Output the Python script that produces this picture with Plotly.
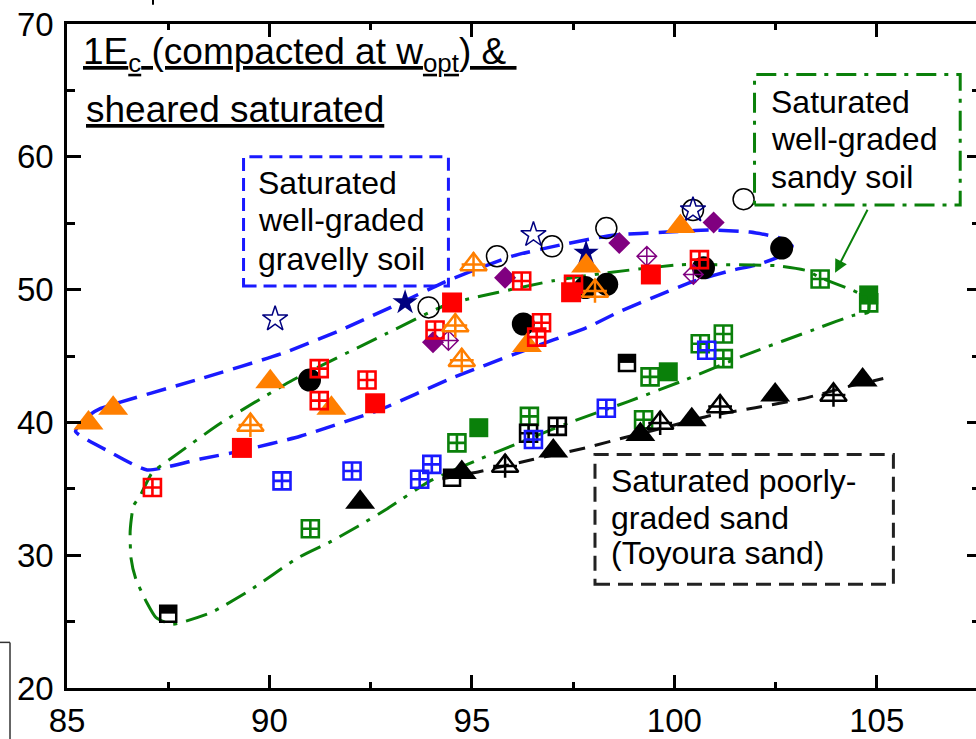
import plotly.graph_objects as go

FONT = "Arial, Liberation Sans, sans-serif"

# ---------------- envelope curves ----------------
# saturated well-graded gravelly soil (blue dashed loop)
gravel_env_x = [85.21, 85.58, 85.82, 88.29, 90.34, 91.75, 93.36, 94.46, 96.02, 97.18,
                98.49, 99.82, 100.88, 101.87, 102.61, 102.91, 102.74, 102.12, 101.38,
                100.52, 99.65, 98.66, 97.85, 96.19, 94.46, 92.74, 90.76, 89.28, 88.29,
                86.98, 86.07, 85.21]
gravel_env_y = [39.33, 40.6, 41.04, 43.28, 45.22, 46.94, 49.18, 50.75, 52.54, 53.36,
                54.1, 54.33, 54.48, 54.33, 53.88, 53.28, 52.69, 51.94, 51.42,
                50.67, 49.63, 48.36, 47.16, 45.3, 43.28, 40.97, 38.96, 37.84, 37.24,
                36.42, 37.76, 39.33]

# saturated well-graded sandy soil (green dash-dot loop)
sand_env_x = [87.6, 87.2, 86.96, 86.7, 86.58, 86.56, 86.64, 86.81, 87.1, 87.55, 88.79,
              90.59, 92.9, 94.39, 95.63, 97.01, 98.35, 100.15, 101.38, 102.5, 103.28,
              103.6, 104.42, 104.8, 104.79, 104.42, 103.6, 101.75, 100.15, 98.86,
              97.36, 95.2, 93.97, 92.91, 92.2, 91.5, 90.7, 89.49, 88.57, 87.6]
sand_env_y = [24.8, 25.3, 26.5, 28.2, 29.8, 31.8, 33.7, 34.5, 36.2, 37.24, 39.93,
              43.21, 46.7, 48.88, 49.78, 50.67, 51.27, 51.87, 51.87, 51.8, 51.42,
              50.9, 49.93, 49.3, 48.3, 48.06, 47.16, 45.07, 43.06, 41.57,
              39.93, 37.24, 35.6, 33.5, 32.2, 31.0, 29.8, 27.3, 25.7, 24.8]

# saturated poorly-graded Toyoura sand (black dashed trend)
toyoura_x = [94.27, 95.2, 96.5, 97.8, 98.9, 100.0, 100.8, 102.0, 103.2, 104.3, 105.16]
toyoura_y = [35.75, 36.3, 37.2, 38.08, 38.96, 39.8, 40.45, 41.1, 41.8, 42.7, 43.3]

# ---------------- measured points ----------------
orange_tri_x = [85.53, 86.14, 90.02, 91.53, 96.36, 97.82, 100.15]
orange_tri_y = [39.95, 41.07, 43.06, 41.07, 45.8, 51.77, 54.75]

orange_tricross_x = [89.53, 94.59, 94.75, 95.04, 98.04]
orange_tricross_y = [39.8, 47.29, 44.68, 51.89, 49.9]

red_grid_x = [87.11, 91.23, 91.23, 92.41, 94.09, 96.23, 96.72, 96.6, 97.51, 100.62]
red_grid_y = [35.1, 44.05, 41.64, 43.19, 46.96, 50.65, 47.5, 46.42, 50.4, 52.26]

red_sq_x = [89.32, 92.61, 94.51, 97.45, 99.42]
red_sq_y = [38.08, 41.44, 49.03, 49.8, 51.14]

black_dot_x = [90.99, 96.27, 97.8, 98.33, 100.72, 102.65]
black_dot_y = [43.19, 47.41, 50.15, 50.4, 51.64, 53.13]

open_circle_x = [93.93, 95.62, 96.98, 98.32, 100.46, 101.71]
open_circle_y = [48.66, 52.51, 53.26, 54.63, 55.99, 56.81]

navy_star_open_x = [90.14, 96.52, 100.46]
navy_star_open_y = [47.78, 54.13, 55.99]

navy_star_x = [93.35, 97.82]
navy_star_y = [49.03, 52.76]

purple_dia_x = [94.04, 95.82, 98.64, 100.97]
purple_dia_y = [46.04, 50.9, 53.51, 55.05]

purple_diacross_x = [94.42, 99.32, 100.47]
purple_diacross_y = [46.17, 52.51, 51.14]

blue_grid_x = [90.31, 92.04, 93.71, 94.01, 96.52, 98.32, 100.8]
blue_grid_y = [35.6, 36.34, 35.72, 36.84, 38.71, 41.07, 45.43]

green_grid_x = [91.01, 94.63, 96.42, 99.4, 99.24, 100.64, 101.21, 101.21, 103.6, 104.8]
green_grid_y = [31.99, 38.46, 40.45, 43.43, 40.2, 45.92, 46.66, 44.8, 50.8, 49.0]

green_sq_x = [95.17, 99.85, 104.8]
green_sq_y = [39.6, 43.81, 49.6]

black_grid_x = [96.4, 97.11]
black_grid_y = [39.18, 39.7]

black_half_x = [87.5, 94.51, 98.83]
black_half_y = [25.6, 35.84, 44.48]

black_tri_x = [92.24, 94.75, 97.01, 99.16, 100.43, 102.49, 104.65]
black_tri_y = [33.98, 36.22, 37.84, 39.08, 40.2, 42.07, 43.19]

black_tricross_x = [95.82, 99.65, 101.13, 103.93]
black_tricross_y = [36.72, 39.95, 41.19, 42.07]

# ---------------- colours ----------------
ORANGE = "#ff7f00"
RED = "#ff0000"
NAVY = "#000080"
PURPLE = "#800080"
BLUE = "#1a1aff"
GREEN = "#0a800a"
BLACK = "#000000"

fig = go.Figure()


def curve(x, y, color, dash, width):
    fig.add_trace(go.Scatter(x=x, y=y, mode="lines",
                             line=dict(color=color, dash=dash, width=width,
                                       shape="spline", smoothing=0.5),
                             showlegend=False, hoverinfo="skip"))


def points(x, y, symbol, size, color, lw=0, yshift_units=0.0):
    fig.add_trace(go.Scatter(x=x, y=[v + yshift_units for v in y], mode="markers",
                             marker=dict(symbol=symbol, size=size, color=color,
                                         line=dict(width=lw, color=color)),
                             showlegend=False, hoverinfo="skip"))


curve(gravel_env_x, gravel_env_y, BLUE, "20px,10px", 3.5)
curve(sand_env_x, sand_env_y, GREEN, "22px,9px,4px,9px", 3)
curve(toyoura_x, toyoura_y, "#111111", "16px,10px", 3)

# markers (drawn in layers so overlaps read like the original)
points(black_dot_x, black_dot_y, "circle", 23, BLACK)
points(open_circle_x, open_circle_y, "circle-open", 21, BLACK, 1.5)
points(green_sq_x, green_sq_y, "square", 19, GREEN)
points(green_grid_x, green_grid_y, "square-cross-open", 17, GREEN, 2.6)
points(black_grid_x, black_grid_y, "square-cross-open", 17, BLACK, 2.6)
points(black_half_x, black_half_y, "square-open", 16, BLACK, 2.5)
points(black_half_x, black_half_y, "line-ew-open", 11.4, BLACK, 8, yshift_units=0.3)
points(blue_grid_x, blue_grid_y, "square-cross-open", 17, BLUE, 2.6)
points(black_tri_x, black_tri_y, "triangle-up", 26, BLACK)
points(black_tricross_x, black_tricross_y, "triangle-up-open", 23, BLACK, 2.5)
points(black_tricross_x, black_tricross_y, "cross-thin-open", 17, BLACK, 2.5)
points(purple_dia_x, purple_dia_y, "diamond", 17, PURPLE)
points(purple_diacross_x, purple_diacross_y, "diamond-cross-open", 15, PURPLE, 1.5)
points(navy_star_open_x, navy_star_open_y, "star-open", 19, NAVY, 1.5)
points(navy_star_x, navy_star_y, "star", 19, NAVY)
points(orange_tri_x, orange_tri_y, "triangle-up", 26, ORANGE)
points(red_sq_x, red_sq_y, "square", 20, RED)
points(red_grid_x, red_grid_y, "square-cross-open", 17, RED, 2.6)
points(orange_tricross_x, orange_tricross_y, "triangle-up-open", 23, ORANGE, 2.5)
points(orange_tricross_x, orange_tricross_y, "cross-thin-open", 17, ORANGE, 2.5)

# carrier for the right-hand frame ticks
fig.add_trace(go.Scatter(x=[None], y=[None], yaxis="y2", showlegend=False,
                         hoverinfo="skip"))

# ---------------- label boxes ----------------
fig.add_shape(type="rect", x0=89.36, x1=94.42, y0=50.28, y1=60.0,
              line=dict(color=BLUE, width=3, dash="13px,7px"))
fig.add_shape(type="rect", x0=101.98, x1=107.06, y0=56.37, y1=66.19,
              line=dict(color=GREEN, width=3, dash="20px,8px,4px,8px"))
fig.add_shape(type="rect", x0=98.04, x1=105.41, y0=27.81, y1=37.59,
              line=dict(color="#222222", width=3, dash="15px,8px"))


def text_line(x, y, txt, size):
    fig.add_annotation(x=x, y=y, xref="x", yref="y", text=txt, showarrow=False,
                       xanchor="left", yanchor="top", align="left",
                       font=dict(family=FONT, size=size, color="black"))


text_line(85.35, 69.66,
          "<u>1E<sub>c</sub> (compacted at w<sub>opt</sub>) &\u00a0</u>", 37)
text_line(85.43, 65.26, "<u>sheared saturated</u>", 37)

for yy, t in zip([59.55, 56.72, 53.81], ["Saturated", "well-graded", "gravelly soil"]):
    text_line(89.67, yy, t, 32)
for yy, t in zip([65.67, 62.84, 60.0], ["Saturated", "well-graded", "sandy soil"]):
    text_line(102.34, yy, t, 32)
for yy, t in zip([37.09, 34.33, 31.64], ["Saturated poorly-", "graded sand", "(Toyoura sand)"]):
    text_line(98.39, yy, t, 32)

# pointer from the sandy-soil box to its data
fig.add_annotation(x=103.97, y=51.27, ax=104.79, ay=56.12, xref="x", yref="y",
                   axref="x", ayref="y", text="", showarrow=True,
                   arrowhead=2, arrowsize=1.3, arrowwidth=2, arrowcolor=GREEN)

# frame fragments in the margins
fig.add_shape(type="line", xref="paper", yref="paper", x0=-0.0737, x1=-0.0627,
              y0=0.0687, y1=0.0687, line=dict(color="#333333", width=1.5))
fig.add_shape(type="line", xref="paper", yref="paper", x0=-0.0627, x1=-0.0627,
              y0=0.0687, y1=-0.08, line=dict(color="#333333", width=1.5))
fig.add_shape(type="line", xref="paper", yref="paper", x0=0.0946, x1=0.0946,
              y0=1.04, y1=1.029, line=dict(color="black", width=2))

tickfont = dict(family=FONT, size=33, color="black")
fig.update_layout(
    width=976, height=739,
    margin=dict(l=67, r=0, t=24, b=45),
    paper_bgcolor="white", plot_bgcolor="white",
    showlegend=False,
    xaxis=dict(range=[85, 107.45], tick0=85, dtick=5, ticks="inside", ticklen=13,
               tickwidth=2.5, tickcolor="black", showline=True, linewidth=2.5,
               linecolor="black", mirror="ticks", showgrid=False, zeroline=False,
               tickfont=tickfont, ticklabelstandoff=2,
               minor=dict(dtick=2.5, ticklen=6, tickwidth=2.5, ticks="inside",
                          tickcolor="black", showgrid=False)),
    yaxis=dict(range=[20, 70], tick0=20, dtick=10, ticks="inside", ticklen=14,
               tickwidth=2.5, tickcolor="black", showline=True, linewidth=2.5,
               linecolor="black", showgrid=False, zeroline=False,
               tickfont=tickfont, ticklabelstandoff=4,
               minor=dict(dtick=5, ticklen=8, tickwidth=2.5, ticks="inside",
                          tickcolor="black", showgrid=False)),
    yaxis2=dict(range=[20, 70], overlaying="y", side="right", anchor="x",
                tick0=20, dtick=10, ticks="inside", ticklen=9, tickwidth=2.5,
                tickcolor="black", showline=False, showticklabels=False,
                showgrid=False, zeroline=False,
                minor=dict(dtick=5, ticklen=4, tickwidth=2.5, ticks="inside",
                           tickcolor="black", showgrid=False)),
)

fig.write_html("out.html")
